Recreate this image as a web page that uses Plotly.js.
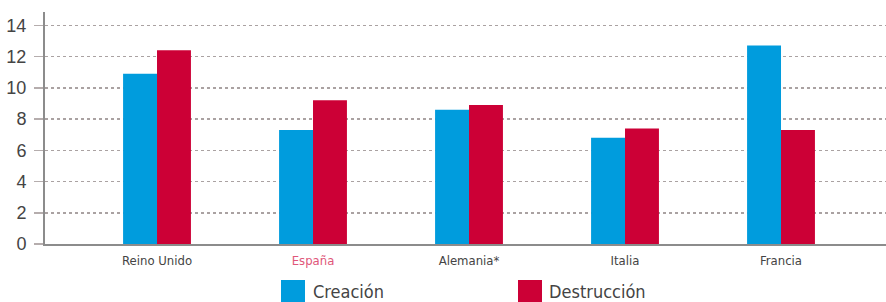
<!DOCTYPE html>
<html>
<head>
<meta charset="utf-8">
<script src="https://cdn.plot.ly/plotly-3.0.1.min.js"></script>
<style>
html,body{margin:0;padding:0;background:#fff;}
#chart{width:886px;height:302px;}
</style>
</head>
<body>
<div id="chart"></div>
<script>
var categories = ["Reino Unido", "España", "Alemania*", "Italia", "Francia"];
var tickLabels = ["Reino Unido", "<span style='fill:#e0577a'>España</span>", "Alemania*", "Italia", "Francia"];
var seriesNames = ["Creación", "Destrucción"];
var creacion = [10.9, 7.3, 8.6, 6.8, 12.7];
var destruccion = [12.4, 9.2, 8.9, 7.4, 7.3];
var yTicks = [0, 2, 4, 6, 8, 10, 12, 14];

var colors = ["#009cdd", "#cc0036"];
var FONT = "DejaVu Sans Condensed, Liberation Sans Narrow, Arial Narrow, Liberation Sans, sans-serif";

var traces = [
  {type: "bar", name: seriesNames[0], x: categories, y: creacion, marker: {color: colors[0], line: {width: 0}}, showlegend: false, hoverinfo: "y"},
  {type: "bar", name: seriesNames[1], x: categories, y: destruccion, marker: {color: colors[1], line: {width: 0}}, showlegend: false, hoverinfo: "y"}
];

var L = 45, W = 841, T = 12, H = 232;
function px(x){ return (x - L) / W; }
function py(y){ return (T + H - y) / H; }

var legendItems = [
  {sx: 281, tx: 311},
  {sx: 518, tx: 547}
];
var shapes = [], annotations = [];
legendItems.forEach(function(it, i){
  shapes.push({type: "rect", xref: "paper", yref: "paper",
    x0: px(it.sx), x1: px(it.sx + 24), y0: py(302), y1: py(280),
    fillcolor: colors[i], line: {width: 0}});
  annotations.push({xref: "paper", yref: "paper", x: px(it.tx), y: py(291),
    xanchor: "left", yanchor: "middle", showarrow: false, text: seriesNames[i],
    font: {family: FONT, size: 18, color: "#444"}});
});

var layout = {
  width: 886, height: 302,
  margin: {l: L, r: 0, t: T, b: 302 - T - H, pad: 0},
  paper_bgcolor: "#fff", plot_bgcolor: "#fff",
  barmode: "group", bargap: 0.565, bargroupgap: 0,
  showlegend: false,
  xaxis: {
    type: "category", range: [-0.718, 4.673],
    tickvals: categories, ticktext: tickLabels,
    showgrid: false, zeroline: false,
    showline: true, linecolor: "#8c8c8c", linewidth: 2,
    ticks: "", ticklabelstandoff: 3,
    tickfont: {family: FONT, size: 13, color: "#444"}
  },
  yaxis: {
    range: [0, 14.85], tickvals: yTicks,
    showgrid: true, gridcolor: "#aaa2a2", gridwidth: 1.5, griddash: "dot",
    zeroline: false,
    showline: true, linecolor: "#8c8c8c", linewidth: 2,
    ticks: "outside", ticklen: 9, tickcolor: "#b5adad", tickwidth: 1.5,
    ticklabelstandoff: 4,
    tickfont: {family: "Liberation Sans, Arial, sans-serif", size: 18, color: "#444"}
  },
  shapes: shapes,
  annotations: annotations
};

Plotly.newPlot("chart", traces, layout, {displayModeBar: false, staticPlot: true});
</script>
</body>
</html>
